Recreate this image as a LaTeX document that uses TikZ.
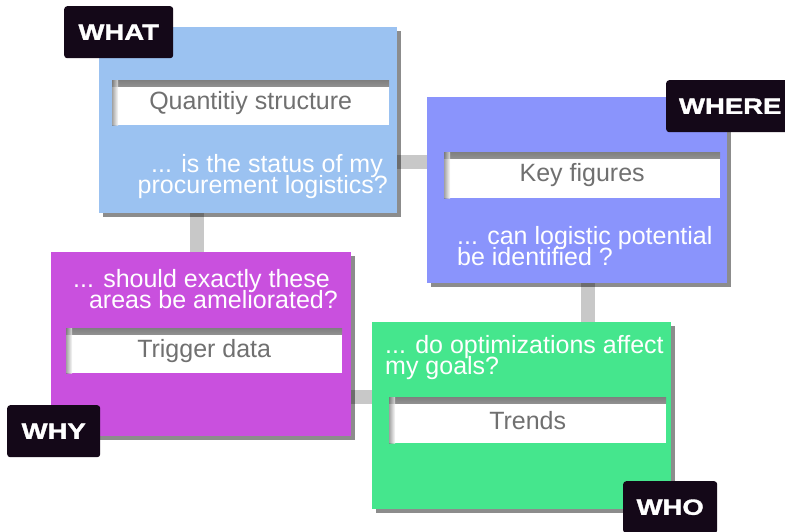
\documentclass[tikz,border=0pt]{standalone}
\usepackage{fontspec}
\setmainfont{Liberation Sans}
\newfontfamily\labelfont[FakeStretch=1.25,FakeBold=1.5]{Liberation Sans Bold}
\usetikzlibrary{shadows,backgrounds}
\definecolor{cwhat}{RGB}{155,194,241}
\definecolor{cwhere}{RGB}{138,148,252}
\definecolor{cwhy}{RGB}{201,80,222}
\definecolor{cwho}{RGB}{69,230,141}
\definecolor{clabel}{RGB}{20,8,24}
\definecolor{cfield}{RGB}{112,112,112}
\definecolor{cconn}{RGB}{200,200,200}
\tikzset{
  panel/.style={draw=none, inner sep=0pt, anchor=north west,
    drop shadow={shadow xshift=4pt, shadow yshift=-4pt, fill=black, opacity=0.45}},
  field/.style={fill=white, inner sep=0pt, anchor=north west, text=cfield,
    font=\fontsize{25}{25}\selectfont,
    path picture={
      \shade[top color=black!50, bottom color=white]
        (path picture bounding box.north west) rectangle ([yshift=-6pt]path picture bounding box.north east);
      \shade[left color=black!50, right color=white, opacity=0.7]
        (path picture bounding box.north west) rectangle ([xshift=6pt]path picture bounding box.south west);
    }},
  quest/.style={text=white, inner sep=0pt, font=\fontsize{25}{20.5}\selectfont},
  lab/.style={fill=clabel, text=white, rounded corners=3pt, inner sep=0pt, anchor=north west,
    minimum height=52pt, font=\labelfont\fontsize{22}{22}\selectfont},
  conn/.style={draw=cconn, line width=14pt}
}
\begin{document}
\begin{tikzpicture}[x=1pt, y=-1pt]
\useasboundingbox (0,0) rectangle (785,531);
% panels
\node[panel, fill=cwhat, minimum width=298pt, minimum height=186pt] (what) at (99,27) {};
\node[panel, fill=cwhere, minimum width=300pt, minimum height=186pt] (where) at (427,97) {};
\node[panel, fill=cwhy, minimum width=300pt, minimum height=184pt] (why) at (51,252) {};
\node[panel, fill=cwho, minimum width=299pt, minimum height=187pt] (who) at (372,322) {};
% connectors
\begin{scope}[on background layer]
\draw[conn] (what.south -| 197,0) -- (why.north -| 197,0);
\draw[conn] (what.east |- 0,161.5) -- (where.west |- 0,161.5);
\draw[conn] (where.south -| 588,0) -- (who.north -| 588,0);
\draw[conn] (why.east |- 0,396.5) -- (who.west |- 0,396.5);
\end{scope}
% fields
\node[field, minimum width=277pt, minimum height=45pt] (fwhat) at (112,80) {Quantitiy structure};
\node[field, minimum width=276pt, minimum height=46pt] (fwhere) at (444,152) {Key figures};
\node[field, minimum width=276pt, minimum height=45pt] (fwhy) at (66,328) {Trigger data};
\node[field, minimum width=277pt, minimum height=46pt] (fwho) at (389,397) {Trends};
% questions
\node[quest, anchor=base east, align=right] (qwhat) at (388,193) {... is the status of my\hspace*{5pt}\\[-4pt]procurement logistics?};
\node[quest, anchor=base west, align=left] (qwhere) at (457,265) {... can logistic potential\\[-4pt]be identified ?};
\node[quest, anchor=base east, align=right] (qwhy) at (338,308) {... should exactly these\hspace*{8pt}\\[-4pt]areas be ameliorated?};
\node[quest, anchor=base west, align=left] (qwho) at (385,374) {... do optimizations affect\\[-4pt]my goals?};
% labels
\node[lab, minimum width=109pt] (lwhat) at (64,6) {WHAT};
\node[lab, minimum width=128pt] (lwhere) at (666,80) {WHERE};
\node[lab, minimum width=93pt] (lwhy) at (7,405) {WHY};
\node[lab, minimum width=94pt] (lwho) at (623,481) {WHO};
\end{tikzpicture}
\end{document}
